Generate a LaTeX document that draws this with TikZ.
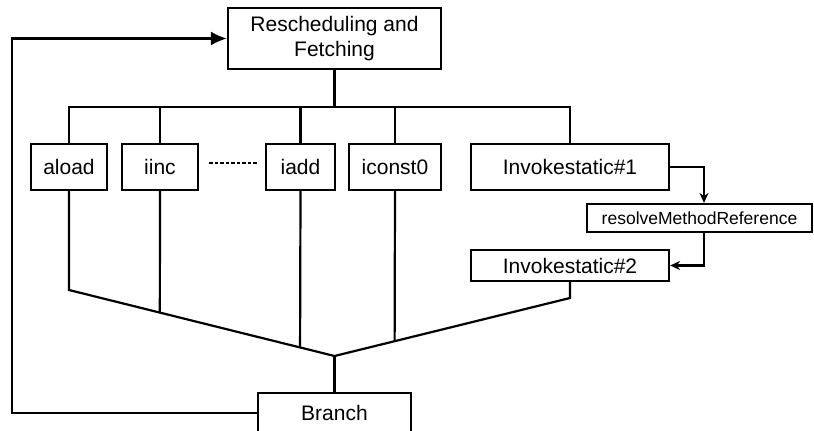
\documentclass[tikz,border=0pt]{standalone}
\usepackage{fontspec}
\setmainfont{Liberation Sans}
\usetikzlibrary{arrows.meta,calc}

\tikzset{
  opbox/.style={draw, line width=1.1pt, minimum height=23pt, inner sep=0pt,
    font=\fontsize{10.5}{12.5}\selectfont},
  wire/.style={line width=1.1pt},
}

\begin{document}
\begin{tikzpicture}[x=0.5pt,y=-0.5pt]
\useasboundingbox (0,0) rectangle (814,430);
% fetch stage and the opcode boxes
\node[opbox, minimum width=106.5pt, minimum height=30.5pt, align=center] (fetch) at (334.5,38.5) {Rescheduling and\\Fetching};
\node[opbox, minimum width=38pt] (aload) at (69,167) {aload};
\node[opbox, minimum width=38pt] (iinc) at (160,167) {iinc};
\node[opbox, minimum width=34.5pt] (iadd) at (300.5,167) {iadd};
\node[opbox, minimum width=46pt] (iconst) at (395,167) {iconst0};
\node[opbox, minimum width=99pt] (inv1) at (570,167) {Invokestatic\#1};
\node[opbox, minimum width=112.5pt, minimum height=14pt, font=\fontsize{8.75}{10}\selectfont] (resolve) at (699.5,218) {resolveMethodReference};
\node[opbox, minimum width=99pt, minimum height=15.5pt] (inv2) at (570,265.5) {Invokestatic\#2};
\node[opbox, minimum width=76.5pt, minimum height=20pt] (branch) at (334.5,413) {Branch};

% dispatch bus
\draw[wire] (fetch.south) -- (fetch.south |- 0,107) coordinate (hub);
\draw[wire] (aload.north) |- (hub) -| (inv1.north);
\foreach \n in {iinc,iadd,iconst}
  \draw[wire] (\n.north) -- (\n.north |- hub);
\draw[wire, line width=0.9pt, dash pattern=on 1.75pt off 1pt] ([xshift=5pt,yshift=2pt]iinc.east) -- ([xshift=-4pt,yshift=2pt]iadd.west);

% side chain of invokestatic
\draw[wire, -{Stealth[length=5pt,width=4.5pt]}] (inv1.east) -| ([xshift=2.25pt]resolve.north);
\draw[wire, -{Stealth[length=5pt,width=4.5pt]}] ([xshift=2.25pt]resolve.south) |- (inv2.east);

% merge into branch
\coordinate (lend) at (aload.south |- 0,290);
\coordinate (rend) at (inv2.south |- 0,298);
\coordinate (merge) at (branch.north |- 0,356);
\draw[wire] (aload.south) -- (lend) -- (merge) -- (rend) -- (inv2.south);
\draw[wire] (merge) -- (branch.north);
\draw[wire] (iinc.south) -- ($(lend)!0.3421!(merge)$);
\draw[wire] (iadd.south) -- ($(lend)!0.8703!(merge)$);
\draw[wire] (iconst.south) -- ($(rend)!0.7447!(merge)$);

% loop back
\draw[wire, -{Latex[length=8pt,width=7pt]}] (branch.west) -- ++(-245,0) |- (fetch.west);
\end{tikzpicture}
\end{document}
